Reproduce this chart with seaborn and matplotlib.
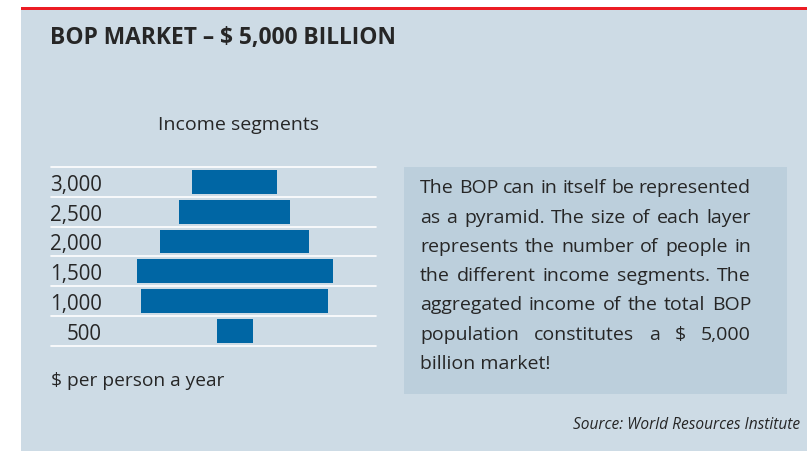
import matplotlib
matplotlib.use("Agg")
import matplotlib.pyplot as plt
import seaborn as sns
import pandas as pd
from matplotlib.patches import Rectangle

# income segments ($ per person a year) and relative layer size (number of people)
segments = ["3,000", "2,500", "2,000", "1,500", "1,000", "500"]
layer_size = [85, 111, 149, 196, 187, 36]

title = "BOP MARKET \u2013 $ 5,000 BILLION"
subtitle = "Income segments"
axis_note = "$ per person a year"
source = "Source: World Resources Institute"
body_lines = [
    "The BOP can in itself be represented",
    "as a pyramid. The size of each layer",
    "represents the number of people in",
    "the different income segments. The",
    "aggregated income of the total BOP",
    "population constitutes a $ 5,000",
    "billion market!",
]

panel_bg = "#cddbe5"
box_bg = "#bccfdc"
bar_blue = "#0066a4"
red = "#ec1c24"
ink = "#262626"

sns.set_theme(style="white")
plt.rcParams["font.family"] = ["Open Sans", "DejaVu Sans"]

W, H = 807, 452
fig = plt.figure(figsize=(W / 100, H / 100), dpi=100)
fig.patch.set_facecolor("white")

def fx(px):
    return px / W

def fy(py):
    return 1 - py / H

# panel and red top rule
fig.add_artist(Rectangle((fx(21), 0), fx(W - 21), fy(11), transform=fig.transFigure,
                         facecolor=panel_bg, edgecolor="none", zorder=0))
fig.add_artist(Rectangle((fx(21), fy(11)), fx(W - 21), 3 / H, transform=fig.transFigure,
                         facecolor=red, edgecolor="none", zorder=1))
# text box
fig.add_artist(Rectangle((fx(404), fy(395)), fx(787 - 404), (395 - 167.5) / H,
                         transform=fig.transFigure, facecolor=box_bg, edgecolor="none", zorder=1))

fig.text(fx(50), fy(44), title, fontsize=16.4, fontweight="bold", color=ink,
         va="baseline", ha="left")
fig.text(fx(158), fy(130), subtitle, fontsize=14, color=ink, va="baseline", ha="left")
fig.text(fx(51), fy(386), axis_note, fontsize=13.8, color=ink, va="baseline", ha="left")
fig.text(fx(800), fy(429), source, fontsize=11.2, style="italic", color=ink,
         va="baseline", ha="right")

# pyramid: centred bars drawn as two halves
df = pd.DataFrame({"segment": segments, "half": [v / 2 for v in layer_size]})
ax = fig.add_axes([fx(51), fy(346.7), fx(376 - 51), (346.7 - 168) / H])
ax.set_facecolor("none")
sns.barplot(data=df, y="segment", x="half", order=segments, orient="h",
            color=bar_blue, saturation=1, width=0.795, linewidth=0, ax=ax)
df["neg"] = -df["half"]
sns.barplot(data=df, y="segment", x="neg", order=segments, orient="h",
            color=bar_blue, saturation=1, width=0.795, linewidth=0, ax=ax)
ax.set_xlim(-183.5, 141.5)
ax.set_ylim(5.5, -0.5)
for b in range(len(segments) + 1):
    ax.axhline(b - 0.5, color="white", lw=1.2, clip_on=False, zorder=0)
ax.set_xlabel("")
ax.set_ylabel("")
ax.set_xticks([])
ax.tick_params(axis="y", length=0, pad=-36.5, labelsize=14.8, labelcolor=ink)
for s in ax.spines.values():
    s.set_visible(False)

# justified body text
renderer = fig.canvas.get_renderer()
left_px, right_px = 420, 751
for i, line in enumerate(body_lines):
    y = fy(193.3 + i * 29.3)
    words = line.split(" ")
    if i == len(body_lines) - 1:
        fig.text(fx(left_px), y, line, fontsize=14, color=ink, va="baseline", ha="left")
        continue
    arts = [fig.text(0, y, w, fontsize=14, color=ink, va="baseline", ha="left") for w in words]
    widths = [a.get_window_extent(renderer).width for a in arts]
    gap = (right_px - left_px - sum(widths)) / (len(words) - 1)
    x = left_px
    for a, w in zip(arts, widths):
        a.set_x(fx(x))
        x += w + gap

fig.savefig("out.png", dpi=100, facecolor=fig.get_facecolor())
